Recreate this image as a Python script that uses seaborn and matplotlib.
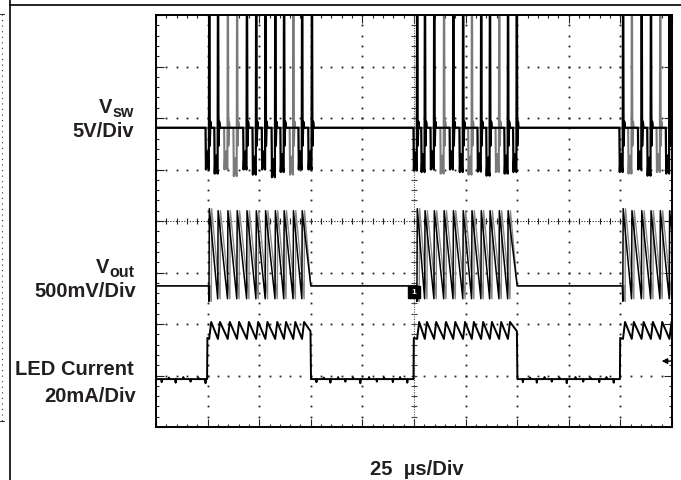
import numpy as np
import pandas as pd
import matplotlib
matplotlib.use("Agg")
import matplotlib.pyplot as plt
import seaborn as sns
from matplotlib.lines import Line2D

# ---------------- data (screen divisions) -------------
# time axis: 10 divisions, 25 us/div ; vertical: 8 divisions
sw_times_1 = [1.03, 1.20, 1.39, 1.57, 1.76, 1.94, 2.12, 2.31, 2.48, 2.66, 2.83, 3.02]
sw_times_2 = [5.06, 5.21, 5.39, 5.58, 5.76, 5.95, 6.12, 6.30, 6.47, 6.65, 6.82, 6.99]
sw_times_3 = [9.05, 9.22, 9.41, 9.59, 9.77, 9.95]
# 1 = spike drawn by the grey (persistence) capture
sw_grey_1 = [0, 0, 1, 1, 0, 0, 0, 0, 0, 1, 0, 0]
sw_grey_2 = [0, 0, 0, 1, 0, 0, 1, 0, 0, 1, 0, 0]
sw_grey_3 = [0, 1, 0, 0, 1, 0]
burst_starts = [0.99, 4.99, 8.99]
burst_ends = [3.0, 7.0, None]

vsw_low_1 = [5.00, 4.92, 5.00, 4.87, 5.00, 4.90, 5.00, 4.85, 4.95, 4.90, 5.00, 5.00]
vsw_low_2 = [4.98, 4.95, 5.00, 4.92, 5.00, 4.95, 4.90, 4.96, 4.88, 4.95, 4.92, 4.95]
vsw_low_3 = [4.95, 4.92, 5.00, 4.88, 4.95, 4.92]
vsw_base = 5.81
vsw_high = 8.4

vout_base = 2.74
vout_peak = 4.20
vout_trough = 2.49

led_low = 0.93
led_step = 1.73
led_peak = 2.04
led_trough = 1.71
led_end = 1.86

low_blip_pos = [0.10, 0.24, 0.37, 0.52, 0.66, 0.81, 0.95, 1.12, 1.27, 1.41, 1.58, 1.72, 1.86]
low_blip_amp = [-0.06, 0.03, -0.07, 0.04, -0.05, 0.03, -0.08, 0.04, -0.05, 0.03, -0.06, 0.04, -0.07]

# ---------------- trace builders ----------------
def vsw_trace(groups, want):
    pts = [(0.0, vsw_base)]
    for times, lows, flags in groups:
        for t, L, f in zip(times, lows, flags):
            if f != want:
                continue
            pts += [(t - 0.07, vsw_base), (t - 0.062, L), (t - 0.05, L + 0.30),
                    (t - 0.04, L + 0.05), (t - 0.03, L + 0.35), (t - 0.02, L + 0.08),
                    (t - 0.006, L), (t, vsw_high), (t + 0.005, vsw_high),
                    (t + 0.012, vsw_base - 0.35), (t + 0.025, vsw_base + 0.12),
                    (t + 0.038, vsw_base)]
    pts.append((10.0, vsw_base))
    return pd.DataFrame(pts, columns=["t", "v"])


def vout_trace(groups, shift=0.0):
    pts = [(0.0, vout_base)]
    for times, end in groups:
        t0 = times[0] + shift
        pts += [(t0 - 0.012, vout_base), (t0 - 0.004, vout_trough - 0.05),
                (t0 + 0.004, vout_peak + 0.04)]
        for t in times[1:]:
            t = t + shift
            pts += [(t - 0.004, vout_trough), (t + 0.004, vout_peak)]
        if end is None:
            pts.append((times[-1] + shift + 0.18, vout_trough))
        else:
            pts += [(end, vout_base)]
    return pd.DataFrame(pts, columns=["t", "v"])


def add_low(pts, a, b, level):
    for p, amp in zip(low_blip_pos, low_blip_amp):
        x = a + p
        if x < b - 0.02:
            pts += [(x, level), (x + 0.01, level + amp), (x + 0.02, level)]


def led_trace(groups):
    pts = [(0.0, led_low)]
    prev_end = 0.0
    for start, times, end in groups:
        add_low(pts, prev_end, start, led_low)
        pts += [(start, led_low), (start + 0.006, led_step)]
        for t in times:
            pts += [(t, led_trough), (t + 0.04, led_peak)]
        if end is None:
            pts.append((times[-1] + 0.18, led_trough))
        else:
            pts += [(end - 0.006, led_end), (end + 0.004, led_low)]
            prev_end = end
    return pd.DataFrame(pts, columns=["t", "v"])


vsw_groups = [(sw_times_1, vsw_low_1, sw_grey_1), (sw_times_2, vsw_low_2, sw_grey_2),
              (sw_times_3, vsw_low_3, sw_grey_3)]
vout_groups = [(sw_times_1[:-1], burst_ends[0]), (sw_times_2[:-1], burst_ends[1]),
               (sw_times_3, burst_ends[2])]
led_groups = [(burst_starts[0], sw_times_1[:-1], burst_ends[0]),
              (burst_starts[1], sw_times_2[:-1], burst_ends[1]),
              (burst_starts[2], sw_times_3, burst_ends[2])]

# ---------------- figure ----------------
sns.set_theme(style="white")
plt.rcParams["font.family"] = ["Liberation Sans", "DejaVu Sans"]

W, H = 681, 481
fig = plt.figure(figsize=(W / 100, H / 100), dpi=100)
fig.patch.set_facecolor("white")
ax = fig.add_axes([156 / W, 1 - 428 / H, 516 / W, 412 / H])
ax.set_facecolor("white")
ax.set_xlim(0, 10)
ax.set_ylim(0, 8)

# graticule
minor = np.arange(0, 10.001, 0.2)
minor_y = np.arange(0, 8.001, 0.2)
for k in range(1, 10):
    if k == 5:
        continue
    ax.plot(np.full_like(minor_y, k), minor_y, ls="none", marker="s", ms=1.3,
            mew=0, color="#222222", zorder=1)
for k in range(1, 8):
    if k == 4:
        continue
    ax.plot(minor, np.full_like(minor, k), ls="none", marker="s", ms=1.3,
            mew=0, color="#222222", zorder=1)
ax.axvline(5, color="#555555", lw=0.8, ls=(0, (1, 1.2)), zorder=1)
ax.axhline(4, color="#222222", lw=0.8, ls=(0, (1, 1.5)), zorder=1)
ax.plot(np.full_like(minor_y, 5), minor_y, ls="none", marker="_", ms=5, mew=0.8,
        color="#444444", zorder=1)
ax.plot(minor, np.full_like(minor, 4), ls="none", marker="|", ms=5, mew=0.8,
        color="#222222", zorder=1)

ax.set_xticks(np.arange(0, 11, 1))
ax.set_yticks(np.arange(0, 9, 1))
ax.set_xticks(minor, minor=True)
ax.set_yticks(minor_y, minor=True)
ax.tick_params(which="both", direction="in", top=True, right=True, bottom=True,
               left=True, labelbottom=False, labelleft=False, color="#222222")
ax.tick_params(which="major", length=6, width=0.8)
ax.tick_params(which="minor", length=2.5, width=0.8)
for s in ax.spines.values():
    s.set_linewidth(1.4)
    s.set_color("black")

# traces (grey persistence capture underneath)
sns.lineplot(data=vsw_trace(vsw_groups, 1), x="t", y="v", sort=False,
             estimator=None, color="#7a7a7a", lw=1.5, ax=ax, zorder=2)
sns.lineplot(data=vout_trace(vout_groups, shift=0.045), x="t", y="v", sort=False,
             estimator=None, color="#8a8a8a", lw=1.0, ax=ax, zorder=2)
sns.lineplot(data=vsw_trace(vsw_groups, 0), x="t", y="v", sort=False,
             estimator=None, color="black", lw=1.6, ax=ax, zorder=3)
sns.lineplot(data=vout_trace(vout_groups), x="t", y="v", sort=False,
             estimator=None, color="black", lw=1.1, ax=ax, zorder=3)
sns.lineplot(data=led_trace(led_groups), x="t", y="v", sort=False,
             estimator=None, color="black", lw=1.4, ax=ax, zorder=3)
ax.set_xlabel("")
ax.set_ylabel("")

# channel marker and trigger arrow
ax.plot([5.0], [2.63], marker="s", ms=8.5, color="black", zorder=4, clip_on=False)
ax.text(5.0, 2.63, "1", color="white", fontsize=6, fontweight="bold",
        ha="center", va="center", zorder=5)
ax.annotate("", xy=(9.8, 1.28), xytext=(10.0, 1.28),
            arrowprops=dict(arrowstyle="-|>", color="black", lw=1.0,
                            mutation_scale=8, shrinkA=0, shrinkB=0),
            annotation_clip=False, zorder=5)

# labels
tc = "#231f20"
fs = 14.5
def ftext(px, py, s, ha="right", size=fs):
    return fig.text(px / W, 1 - py / H, s, ha=ha, va="baseline", fontsize=size,
                    fontweight="bold", color=tc)

renderer = fig.canvas.get_renderer()
def vlabel(px, py, sub):
    t = ftext(px, py + 4, sub, size=11.5)
    w = t.get_window_extent(renderer=renderer).width
    ftext(px - w, py, "V")

vlabel(134, 113, "sw")
ftext(134, 137, "5V/Div")
vlabel(134, 273, "out")
ftext(136, 297, "500mV/Div")
ftext(134, 375, "LED Current")
ftext(136, 402, "20mA/Div")
ftext(417, 475, "25  µs/Div", ha="center")

# surrounding frame lines
fig.add_artist(Line2D([10 / W, 1], [1 - 6 / H, 1 - 6 / H], transform=fig.transFigure,
                      color="black", lw=1.2))
fig.add_artist(Line2D([10 / W, 10 / W], [0, 1], transform=fig.transFigure,
                      color="black", lw=1.2))
fig.add_artist(Line2D([2 / W, 2 / W], [1 - 15 / H, 1 - 422 / H], transform=fig.transFigure,
                      color="#333333", lw=0.8, ls=(0, (1, 4))))
fig.add_artist(Line2D([0, 4 / W], [1 - 15 / H, 1 - 15 / H], transform=fig.transFigure,
                      color="#333333", lw=0.8))
fig.add_artist(Line2D([0, 4 / W], [1 - 422 / H, 1 - 422 / H], transform=fig.transFigure,
                      color="#333333", lw=0.8))

fig.savefig("out.png", dpi=100, facecolor="white")
